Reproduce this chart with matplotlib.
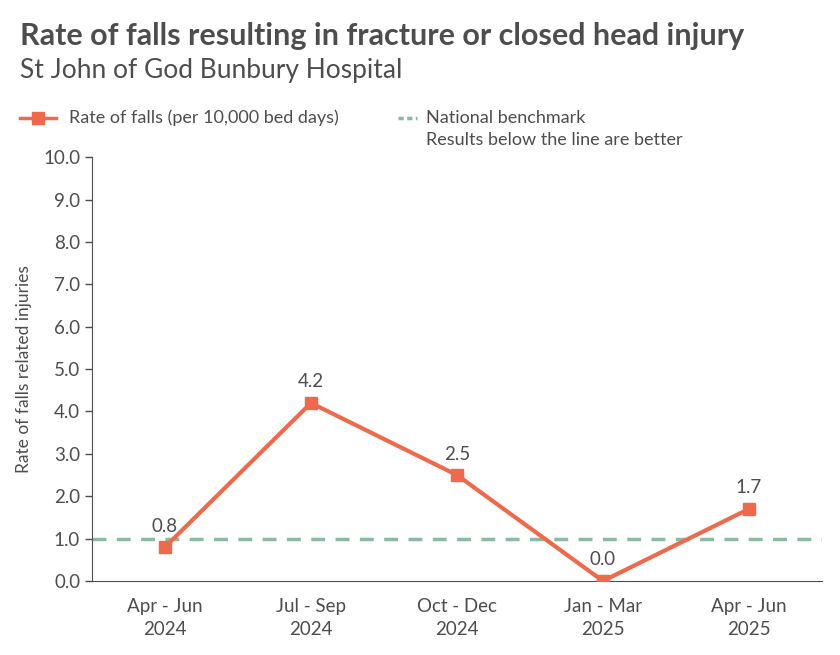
import matplotlib
matplotlib.use("Agg")
import matplotlib.pyplot as plt
from matplotlib.lines import Line2D

plt.rcParams['font.family'] = ['Lato', 'DejaVu Sans']

quarters = ["Apr - Jun\n2024", "Jul - Sep\n2024", "Oct - Dec\n2024", "Jan - Mar\n2025", "Apr - Jun\n2025"]
rates = [0.8, 4.2, 2.5, 0.0, 1.7]
benchmark = 1.0

orange = "#EE6A4D"
green = "#8DB9A2"
grey = "#4D4D4F"

fig = plt.figure(figsize=(8.4, 6.55), dpi=100)
ax = fig.add_axes([0.1095, 0.113, 0.869, 0.647])

x = list(range(len(rates)))
ax.plot(x, rates, color=orange, lw=3, marker="s", ms=9, zorder=3)
ax.axhline(benchmark, color=green, lw=2.5, ls=(0, (4, 3)), zorder=2)

for xi, v in zip(x, rates):
    ax.annotate(f"{v:.1f}", (xi, v), xytext=(0, 9), textcoords="offset points",
                ha="center", va="bottom", fontsize=13.5, color=grey)

ax.set_xlim(-0.5, 4.5)
ax.set_ylim(0, 10)
ax.set_yticks([i for i in range(11)])
ax.set_yticklabels([f"{i:.1f}" for i in range(11)])
ax.set_xticks(x)
ax.set_xticklabels(quarters, linespacing=1.45)
ax.tick_params(axis="x", length=0, pad=12, labelsize=13.5, colors=grey)
ax.tick_params(axis="y", length=5, labelsize=13.5, colors=grey, width=1)
ax.set_ylabel("Rate of falls related injuries", fontsize=12.5, color=grey, labelpad=8)

for s in ["top", "right"]:
    ax.spines[s].set_visible(False)
ax.spines["left"].set_color(grey)
ax.spines["bottom"].set_color(grey)

fig.text(0.024, 0.945, "Rate of falls resulting in fracture or closed head injury",
         fontsize=22, fontweight="bold", color=grey, va="center")
fig.text(0.024, 0.892, "St John of God Bunbury Hospital", fontsize=19, color=grey, va="center")

# legend
fig.add_artist(Line2D([0.024, 0.067], [0.82, 0.82], color=orange, lw=2.5))
fig.add_artist(Line2D([0.0455], [0.82], color=orange, marker="s", ms=9, lw=0))
fig.text(0.082, 0.82, "Rate of falls (per 10,000 bed days)", fontsize=13, color=grey, va="center")
fig.add_artist(Line2D([0.474, 0.497], [0.82, 0.82], color=green, lw=2.5, ls=(0, (1.5, 1))))
fig.text(0.507, 0.82, "National benchmark", fontsize=13, color=grey, va="center")
fig.text(0.507, 0.786, "Results below the line are better", fontsize=13, color=grey, va="center")

fig.savefig("out.png", dpi=100)
